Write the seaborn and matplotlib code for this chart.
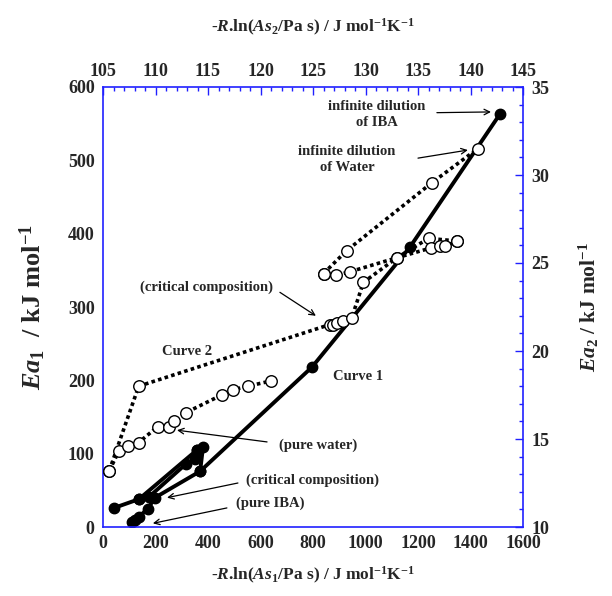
import matplotlib
matplotlib.use("Agg")
import matplotlib.pyplot as plt
from matplotlib.ticker import MultipleLocator
import seaborn as sns
import pandas as pd

# ---------------- data ----------------
# Curve 1 (bottom / left axes): -R ln(As1) vs Ea1
c1_main_x = [110, 122, 137, 171, 198, 370, 796, 1170, 1512]
c1_main_y = [7, 10, 14, 25, 40, 76, 218, 382, 563]
c1_loop_x = [42, 137, 175, 316, 350, 358, 381, 370]
c1_loop_y = [26, 38, 41, 86, 93, 105, 109, 76]
c1_branch_x = [137, 358]
c1_branch_y = [38, 105]

# Curve 2 (top / right axes): -R ln(As2) vs Ea2
c2_upper_x = [105.6, 108.4, 126.6, 126.9, 127.3, 127.9, 128.7, 129.8, 133.0, 136.0, 138.7]
c2_upper_y = [13.2, 18.0, 21.5, 21.5, 21.6, 21.7, 21.9, 23.9, 25.3, 26.4, 26.25]
c2_lower_x = [105.6, 106.5, 107.4, 108.4, 110.2, 111.3, 111.8, 112.9, 116.3, 117.4, 118.8, 121.0]
c2_lower_y = [13.2, 14.3, 14.6, 14.8, 15.7, 15.7, 16.0, 16.5, 17.5, 17.8, 18.0, 18.3]
c2_mid_x = [126.0, 127.2, 128.5, 133.0, 136.2, 137.1, 137.6, 138.7]
c2_mid_y = [24.4, 24.3, 24.5, 25.3, 25.85, 25.95, 25.95, 26.25]
c2_top_x = [126.0, 128.2, 136.3, 140.7]
c2_top_y = [24.4, 25.7, 29.55, 31.5]

# ---------------- style ----------------
sns.set_style("white")
plt.rcParams["font.family"] = ["Liberation Serif", "DejaVu Serif"]
plt.rcParams["font.weight"] = "bold"
plt.rcParams["mathtext.fontset"] = "custom"
plt.rcParams["mathtext.rm"] = "Liberation Serif:bold"
plt.rcParams["mathtext.it"] = "Liberation Serif:italic:bold"
plt.rcParams["mathtext.bf"] = "Liberation Serif:bold"

BLUE = "#2020ff"
fig = plt.figure(figsize=(6.12, 5.96), dpi=100)
pos = [103 / 612, 69 / 596, 420 / 612, 440 / 596]
ax = fig.add_axes(pos)
ax2 = fig.add_axes(pos, frameon=False)

dot = (0, (1.0, 0.9))

# Curve 1: filled circles, solid line
for xs, ys in [(c1_main_x, c1_main_y), (c1_loop_x, c1_loop_y), (c1_branch_x, c1_branch_y)]:
    df = pd.DataFrame({"x": xs, "y": ys})
    sns.lineplot(data=df, x="x", y="y", sort=False, estimator=None, ax=ax,
                 color="black", linewidth=2.8, marker="o", markersize=7.5,
                 markerfacecolor="black", markeredgecolor="black",
                 markeredgewidth=1)

# Curve 2: open circles, dotted line
for xs, ys in [(c2_upper_x, c2_upper_y), (c2_lower_x, c2_lower_y),
               (c2_mid_x, c2_mid_y), (c2_top_x, c2_top_y)]:
    df = pd.DataFrame({"x": xs, "y": ys})
    sns.lineplot(data=df, x="x", y="y", sort=False, estimator=None, ax=ax2,
                 color="black", linewidth=2.6, linestyle=dot,
                 marker="o", markersize=8.3, markerfacecolor="white",
                 markeredgecolor="black", markeredgewidth=1)

# Axes limits/ticks
ax.set_xlim(0, 1600)
ax.set_ylim(0, 600)
ax.xaxis.set_major_locator(MultipleLocator(200))
ax.xaxis.set_minor_locator(MultipleLocator(50))
ax.yaxis.set_major_locator(MultipleLocator(100))
ax.yaxis.set_minor_locator(MultipleLocator(20))

ax2.set_xlim(105, 145)
ax2.set_ylim(10, 35)
ax2.xaxis.set_major_locator(MultipleLocator(5))
ax2.xaxis.set_minor_locator(MultipleLocator(1))
ax2.yaxis.set_major_locator(MultipleLocator(5))
ax2.yaxis.set_minor_locator(MultipleLocator(1))
ax2.xaxis.tick_top()
ax2.yaxis.tick_right()
ax2.xaxis.set_label_position("top")
ax2.yaxis.set_label_position("right")

for a in (ax, ax2):
    a.tick_params(which="major", direction="in", length=6, width=1, color=BLUE,
                  labelsize=13, pad=6)
    a.tick_params(which="minor", direction="in", length=3, width=1, color=BLUE)
    for lab in a.get_xticklabels() + a.get_yticklabels():
        lab.set_fontweight("bold")
ax2.tick_params(axis="x", which="major", pad=5)
for s in ax.spines.values():
    s.set_color(BLUE)
    s.set_linewidth(1.2)
ax.tick_params(top=False, right=False, which="both")

ax.set_xlabel(r"-$R$.ln($As_1$/Pa s) / J mol$^{-1}$K$^{-1}$", fontsize=12.5,
              fontweight="bold", labelpad=9)
ax.set_ylabel(r"$Ea_1$  / kJ mol$^{-1}$", fontsize=19, fontweight="bold", labelpad=14)
ax2.set_xlabel(r"-$R$.ln($As_2$/Pa s) / J mol$^{-1}$K$^{-1}$", fontsize=12.5,
               fontweight="bold", labelpad=22)
ax2.set_ylabel(r"$Ea_2$ / kJ mol$^{-1}$", fontsize=15.5, fontweight="bold", labelpad=20)

# Annotations (in bottom/left data coordinates)
tkw = dict(fontsize=10.5, fontweight="bold", ha="center", va="center")
akw = dict(arrowstyle="->", color="black", lw=0.9, shrinkA=0, shrinkB=0)

ax.text(1044, 562, "infinite dilution\nof IBA", linespacing=1.3, **tkw)
ax.annotate("", xy=(1478, 566), xytext=(1272, 565), arrowprops=akw)
ax.text(930, 501, "infinite dilution\nof Water", linespacing=1.3, **tkw)
ax.annotate("", xy=(1390, 514), xytext=(1200, 503), arrowprops=akw)
ax.text(396, 327, "(critical composition)", **tkw)
ax.annotate("", xy=(811, 288), xytext=(674, 320), arrowprops=akw)
ax.text(320, 239, "Curve 2", **tkw)
ax.text(971, 205, "Curve 1", **tkw)
ax.text(819, 112, "(pure water)", **tkw)
ax.annotate("", xy=(282, 132), xytext=(625, 116), arrowprops=akw)
ax.text(800, 64, "(critical composition)", **tkw)
ax.annotate("", xy=(244, 40), xytext=(514, 60), arrowprops=akw)
ax.text(636, 33, "(pure IBA)", **tkw)
ax.annotate("", xy=(190, 5), xytext=(472, 26), arrowprops=akw)

fig.savefig("out.png", dpi=100)
